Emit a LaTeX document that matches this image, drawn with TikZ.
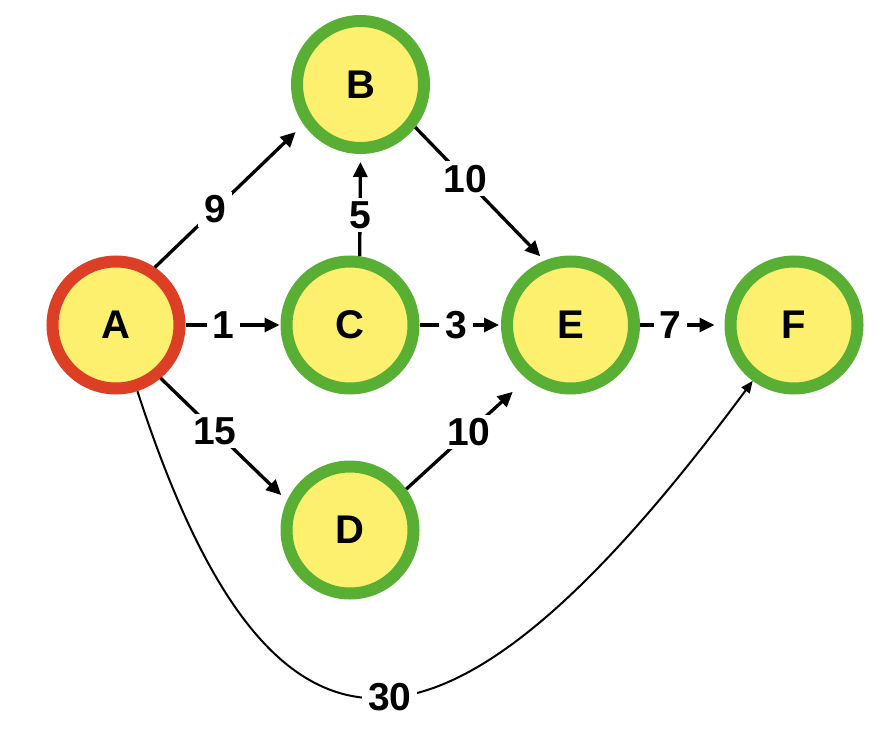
\documentclass[tikz,border=0pt]{standalone}
\usepackage{fontspec}
\setmainfont{Liberation Sans}
\usetikzlibrary{arrows.meta}
\definecolor{nodered}{RGB}{220,62,38}
\definecolor{nodegreen}{RGB}{88,175,52}
\definecolor{nodeyellow}{RGB}{253,240,110}
\begin{document}
\begin{tikzpicture}[x=1pt,y=-1pt,
  vertex/.style={circle, draw=nodegreen, fill=nodeyellow, line width=12pt,
    minimum size=127pt, inner sep=0pt, font=\fontsize{40}{42}\selectfont\bfseries},
  startvertex/.style={vertex, draw=nodered},
  edge/.style={line width=3.3pt, -{Triangle[length=15pt,width=14pt]}},
  curveedge/.style={line width=2pt, -{Triangle[length=12pt,width=10pt]}},
  weight/.style={fill=white, inner xsep=6pt, inner ysep=3.5pt,
    font=\fontsize{39}{41}\selectfont\bfseries, text=black}]
\useasboundingbox (0,0) rectangle (878,730);
\node[startvertex] (A) at (116,325) {A};
\node[vertex] (B) at (360.5,84.5) {B};
\node[vertex] (C) at (350,325) {C};
\node[vertex] (D) at (350,530) {D};
\node[vertex] (E) at (570.5,325) {E};
\node[vertex] (F) at (794,325) {F};
\draw[edge, shorten >=11pt] (A.56) -- node[weight,pos=0.405]{9} (B.215);
\draw[edge, shorten >=1pt] (A.east) -- node[weight,pos=0.4]{1} (C.west);
\draw[edge, shorten >=8pt] (A.-50) -- node[weight,pos=0.43]{15} (D.155);
\draw[edge, shorten >=8pt] (C.82) -- node[weight,pos=0.4]{5} (B.south);
\draw[edge, shorten >=2pt] (C.east) -- node[weight,pos=0.45]{3} (E.west);
\draw[edge, shorten >=6pt] (B.-38) -- node[weight,pos=0.385]{10} (E.112);
\draw[edge, shorten >=19pt] (D.36) -- node[weight,pos=0.52]{10} (E.231);
\draw[edge, shorten >=10pt] (E.east) -- node[weight,pos=0.36]{7} (F.west);
\draw[curveedge] (A) .. controls (270,800) and (441,802) .. node[weight,pos=0.52]{30} (F);
\end{tikzpicture}
\end{document}
